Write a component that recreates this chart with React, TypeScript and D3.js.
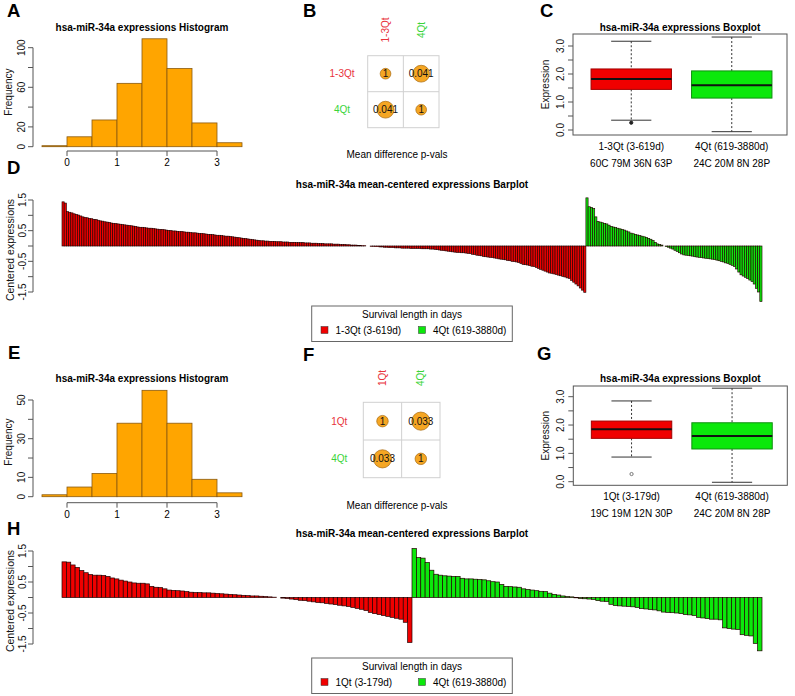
import React from "react";
import * as d3 from "d3";

const FONT = "'Liberation Sans', Arial, Helvetica, sans-serif";
const RED = "#f00000";
const GREEN = "#0be80b";
const RED_TXT = "#e8333c";
const GREEN_TXT = "#3ad43a";
const ORANGE = "#ffa500";
const AXIS = "#555";

// histogram data (bin edges -0.5 .. 3.5, width 0.5)
const histBreaks = [-0.5, 0, 0.5, 1, 1.5, 2, 2.5, 3, 3.5];
const histCountsA = [1, 10, 27, 64, 109, 79, 24, 4];
const histCountsE = [1, 5, 12, 38, 55, 38, 9, 2];
const histXTicks = [0, 1, 2, 3];
const histYTicksA = [0, 20, 40, 60, 80, 100];
const histYLabelsA = [0, 20, 60, 100];
const histYTicksE = [0, 10, 20, 30, 40, 50];
const histYLabelsE = [0, 10, 30, 50];

// p-value matrices
const pvalLabelsB = ["1-3Qt", "4Qt"];
const pvalsB = [[1, 0.041], [0.041, 1]];
const pvalLabelsF = ["1Qt", "4Qt"];
const pvalsF = [[1, 0.033], [0.033, 1]];

// boxplots
const boxGroupsC = ["1-3Qt (3-619d)", "4Qt (619-3880d)"];
const boxSubC = ["60C 79M 36N 63P", "24C 20M 8N 28P"];
const boxStatsC = [
  { lo: 0.35, q1: 1.45, med: 1.82, q3: 2.18, hi: 3.17, out: [0.26] },
  { lo: -0.06, q1: 1.14, med: 1.6, q3: 2.11, hi: 3.32, out: [] },
];
const boxGroupsG = ["1Qt (3-179d)", "4Qt (619-3880d)"];
const boxSubG = ["19C 19M 12N 30P", "24C 20M 8N 28P"];
const boxStatsG = [
  { lo: 0.87, q1: 1.53, med: 1.85, q3: 2.14, hi: 2.85, out: [0.27] },
  { lo: -0.02, q1: 1.155, med: 1.61, q3: 2.08, hi: 3.3, out: [] },
];
const boxYTicks = [0, 0.5, 1, 1.5, 2, 2.5, 3];
const boxYLabels = [0, 1, 2, 3];

// mean-centered barplots
const centeredD_short = [
  1.44, 1.40, 1.12, 1.10, 1.08, 1.05, 1.03, 1.01, 0.98, 0.95,
  0.93, 0.92, 0.90, 0.89, 0.87, 0.86, 0.84, 0.82, 0.81, 0.79,
  0.78, 0.77, 0.75, 0.74, 0.73, 0.72, 0.71, 0.70, 0.69, 0.68,
  0.67, 0.66, 0.65, 0.64, 0.62, 0.61, 0.61, 0.60, 0.59, 0.58,
  0.58, 0.57, 0.56, 0.55, 0.54, 0.54, 0.53, 0.52, 0.51, 0.50,
  0.49, 0.49, 0.48, 0.47, 0.47, 0.46, 0.45, 0.45, 0.44, 0.43,
  0.43, 0.42, 0.41, 0.41, 0.40, 0.39, 0.38, 0.38, 0.37, 0.36,
  0.35, 0.35, 0.34, 0.33, 0.32, 0.32, 0.31, 0.30, 0.29, 0.28,
  0.27, 0.26, 0.25, 0.24, 0.23, 0.22, 0.21, 0.20, 0.19, 0.18,
  0.17, 0.17, 0.16, 0.16, 0.15, 0.15, 0.15, 0.14, 0.14, 0.14,
  0.13, 0.13, 0.13, 0.12, 0.12, 0.12, 0.11, 0.11, 0.11, 0.11,
  0.10, 0.10, 0.10, 0.09, 0.09, 0.09, 0.08, 0.08, 0.08, 0.07,
  0.07, 0.07, 0.07, 0.06, 0.06, 0.06, 0.05, 0.05, 0.05, 0.04,
  0.04, 0.03, 0.03, 0.03, 0.02, 0.02, 0.01, 0.01, 0.00, 0.00,
  -0.01, -0.01, -0.02, -0.02, -0.03, -0.03, -0.04, -0.04, -0.05, -0.05,
  -0.05, -0.06, -0.06, -0.06, -0.07, -0.07, -0.07, -0.07, -0.08, -0.08,
  -0.08, -0.08, -0.08, -0.09, -0.09, -0.09, -0.09, -0.10, -0.10, -0.11,
  -0.12, -0.13, -0.14, -0.15, -0.16, -0.17, -0.18, -0.19, -0.20, -0.21,
  -0.21, -0.22, -0.22, -0.23, -0.24, -0.25, -0.27, -0.28, -0.30, -0.31,
  -0.32, -0.34, -0.35, -0.36, -0.37, -0.38, -0.39, -0.40, -0.42, -0.43,
  -0.44, -0.45, -0.47, -0.48, -0.50, -0.51, -0.52, -0.54, -0.57, -0.60,
  -0.61, -0.62, -0.64, -0.66, -0.67, -0.70, -0.73, -0.76, -0.79, -0.82,
  -0.85, -0.88, -0.89, -0.91, -0.93, -0.95, -0.97, -0.99, -1.01, -1.04,
  -1.06, -1.12, -1.18, -1.24, -1.30, -1.37, -1.44, -1.51,
];
const centeredD_long = [
  1.57, 1.28, 1.26, 1.22, 0.95, 0.80, 0.78, 0.76, 0.74, 0.72,
  0.68, 0.64, 0.62, 0.60, 0.58, 0.56, 0.54, 0.52, 0.49, 0.46,
  0.42, 0.40, 0.38, 0.36, 0.34, 0.32, 0.30, 0.28, 0.25, 0.22,
  0.18, 0.12, 0.07, 0.05, 0.03, 0.00, -0.02, -0.04, -0.07, -0.10,
  -0.14, -0.18, -0.22, -0.26, -0.29, -0.30, -0.31, -0.32, -0.33, -0.35,
  -0.36, -0.37, -0.38, -0.39, -0.40, -0.41, -0.42, -0.43, -0.44, -0.46,
  -0.48, -0.50, -0.52, -0.55, -0.57, -0.60, -0.63, -0.67, -0.75, -0.85,
  -0.94, -0.98, -1.02, -1.06, -1.11, -1.16, -1.24, -1.38, -1.50, -1.81,
];
const centeredH_short = [
  1.15, 1.14, 1.05, 0.97, 0.87, 0.80, 0.74, 0.72, 0.72, 0.71,
  0.68, 0.63, 0.60, 0.56, 0.53, 0.50, 0.47, 0.46, 0.46, 0.44,
  0.36, 0.33, 0.32, 0.28, 0.24, 0.23, 0.22, 0.21, 0.19, 0.17,
  0.16, 0.16, 0.15, 0.15, 0.14, 0.13, 0.12, 0.11, 0.10, 0.09,
  0.08, 0.07, 0.06, 0.05, 0.05, 0.04, 0.03, 0.02, 0.01, 0.00,
  -0.02, -0.03, -0.05, -0.07, -0.09, -0.10, -0.12, -0.14, -0.16, -0.17,
  -0.19, -0.21, -0.23, -0.25, -0.27, -0.29, -0.32, -0.35, -0.38, -0.42,
  -0.48, -0.52, -0.55, -0.58, -0.61, -0.64, -0.67, -0.70, -0.80, -1.45,
];
const centeredH_long = [
  1.58, 1.29, 1.27, 1.13, 0.88, 0.75, 0.72, 0.70, 0.69, 0.68,
  0.68, 0.62, 0.60, 0.60, 0.59, 0.58, 0.57, 0.54, 0.51, 0.50,
  0.42, 0.36, 0.35, 0.34, 0.33, 0.28, 0.26, 0.24, 0.22, 0.20,
  0.19, 0.14, 0.10, 0.08, 0.05, 0.03, 0.02, -0.01, -0.03, -0.04,
  -0.05, -0.06, -0.10, -0.12, -0.13, -0.22, -0.26, -0.27, -0.28, -0.29,
  -0.30, -0.32, -0.36, -0.37, -0.39, -0.40, -0.43, -0.47, -0.48, -0.49,
  -0.50, -0.52, -0.55, -0.56, -0.58, -0.64, -0.66, -0.68, -0.70, -0.70,
  -0.72, -0.98, -1.00, -1.02, -1.03, -1.20, -1.22, -1.24, -1.48, -1.72,
];
const barYTicks = [-1.5, -1, -0.5, 0, 0.5, 1, 1.5];
const barYLabels = [-1.5, -0.5, 0.5, 1.5];
const legendD = ["1-3Qt (3-619d)", "4Qt (619-3880d)"];
const legendH = ["1Qt (3-179d)", "4Qt (619-3880d)"];

const VText = ({ x, y, size = 10, children, fill = "#111" }: any) => (
  <text
    transform={`translate(${x},${y}) rotate(-90)`}
    textAnchor="middle"
    dy="0.35em"
    fontSize={size}
    fill={fill}
  >
    {children}
  </text>
);

const Letter = ({ x, y, t }: any) => (
  <text x={x} y={y} fontSize={18.5} fontWeight="bold" fill="#000">{t}</text>
);

const Histogram = ({ counts, yDomain, yRange, yTicks, yLabels, axisY, titleY, ylabY }: any) => {
  const x = d3.scaleLinear().domain([-0.5, 3.5]).range([42, 242]);
  const y = d3.scaleLinear().domain(yDomain).range(yRange);
  const bins = counts.map((c: number, i: number) => ({ x0: histBreaks[i], x1: histBreaks[i + 1], c }));
  const yMax = yTicks[yTicks.length - 1];
  return (
    <g>
      <text x={142} y={titleY} textAnchor="middle" fontSize={10} fontWeight="bold">
        hsa-miR-34a expressions Histogram
      </text>
      {bins.map((b: any, i: number) => (
        <rect key={i} x={x(b.x0)} y={y(b.c)} width={x(b.x1) - x(b.x0)} height={y(0) - y(b.c)}
          fill={ORANGE} stroke="#8a5a10" strokeWidth={0.8} />
      ))}
      <line x1={x(0)} x2={x(3)} y1={axisY} y2={axisY} stroke={AXIS} />
      {histXTicks.map((t) => (
        <g key={t}>
          <line x1={x(t)} x2={x(t)} y1={axisY} y2={axisY + 5} stroke={AXIS} />
          <text x={x(t)} y={axisY + 15} textAnchor="middle" fontSize={10}>{t}</text>
        </g>
      ))}
      <line x1={33} x2={33} y1={y(0)} y2={y(yMax)} stroke={AXIS} />
      {yTicks.map((t: number) => (
        <line key={t} x1={28} x2={33} y1={y(t)} y2={y(t)} stroke={AXIS} />
      ))}
      {yLabels.map((t: number) => (
        <VText key={t} x={21.5} y={y(t)}>{t}</VText>
      ))}
      <VText x={8} y={ylabY}>Frequency</VText>
    </g>
  );
};

const PvalMatrix = ({ labels, pvals, gx, gy, colLabelY, rowLabelX, captionY }: any) => {
  const xb = d3.scaleBand().domain(labels).range(gx);
  const yb = d3.scaleBand().domain(labels).range(gy);
  const bw = xb.bandwidth();
  const r = d3.scaleLinear().domain([0, 1]).range([0.24 * bw, 0.15 * bw]);
  const colors = [RED_TXT, GREEN_TXT];
  return (
    <g>
      <rect x={gx[0]} y={gy[0]} width={gx[1] - gx[0]} height={gy[1] - gy[0]} fill="none" stroke="#d0d0d0" />
      <line x1={gx[0] + bw} x2={gx[0] + bw} y1={gy[0]} y2={gy[1]} stroke="#d0d0d0" />
      <line x1={gx[0]} x2={gx[1]} y1={gy[0] + yb.bandwidth()} y2={gy[0] + yb.bandwidth()} stroke="#d0d0d0" />
      {labels.map((l: string, i: number) => (
        <g key={l}>
          <VText x={(xb(l) as number) + bw / 2} y={colLabelY} fill={colors[i]}>{l}</VText>
          <text x={rowLabelX} y={(yb(l) as number) + yb.bandwidth() / 2} dy="0.35em" textAnchor="middle"
            fontSize={10} fill={colors[i]}>{l}</text>
        </g>
      ))}
      {pvals.map((row: number[], i: number) =>
        row.map((p: number, j: number) => {
          const cx = (xb(labels[j]) as number) + bw / 2;
          const cy = (yb(labels[i]) as number) + yb.bandwidth() / 2;
          return (
            <g key={i + "-" + j}>
              <circle cx={cx} cy={cy} r={r(p)} fill="#f5a623" stroke="#a86a10" strokeWidth={0.7} />
              <text x={cx} y={cy} dy="0.35em" textAnchor="middle" fontSize={10} fill="#111">
                {p === 1 ? "1" : String(p)}
              </text>
            </g>
          );
        })
      )}
      <text x={397} y={captionY} textAnchor="middle" fontSize={10}>Mean difference p-vals</text>
    </g>
  );
};

const Boxplot = ({ stats, groups, subs, frame, yRange, titleY, outFill }: any) => {
  const [l, r, t, b] = frame;
  const y = d3.scaleLinear().domain([0, 3]).range(yRange);
  const xb = d3.scaleBand().domain(groups).range([l + 8, r - 5]).paddingInner(0.2).paddingOuter(0.1);
  const fills = [RED, GREEN];
  const strokes = ["#a00000", "#109010"];
  const hw = xb.bandwidth() / 2;
  return (
    <g>
      <text x={(l + r) / 2} y={titleY} textAnchor="middle" fontSize={10} fontWeight="bold">
        hsa-miR-34a expressions Boxplot
      </text>
      {stats.map((s: any, i: number) => {
        const cx = (xb(groups[i]) as number) + hw;
        return (
          <g key={i}>
            <line x1={cx} x2={cx} y1={y(s.hi)} y2={y(s.q3)} stroke="#333" strokeDasharray="2,2" />
            <line x1={cx} x2={cx} y1={y(s.q1)} y2={y(s.lo)} stroke="#333" strokeDasharray="2,2" />
            <line x1={cx - hw / 2} x2={cx + hw / 2} y1={y(s.hi)} y2={y(s.hi)} stroke="#333" />
            <line x1={cx - hw / 2} x2={cx + hw / 2} y1={y(s.lo)} y2={y(s.lo)} stroke="#333" />
            <rect x={cx - hw} y={y(s.q3)} width={2 * hw} height={y(s.q1) - y(s.q3)}
              fill={fills[i]} stroke={strokes[i]} />
            <line x1={cx - hw} x2={cx + hw} y1={y(s.med)} y2={y(s.med)} stroke="#111" strokeWidth={2} />
            {s.out.map((o: number, k: number) => (
              <circle key={k} cx={cx} cy={y(o)} r={1.6} fill={outFill} stroke={outFill === "none" ? "#777" : "#222"} />
            ))}
            <text x={cx} y={b + 15} textAnchor="middle" fontSize={10}>{groups[i]}</text>
            <text x={cx} y={b + 32} textAnchor="middle" fontSize={10}>{subs[i]}</text>
          </g>
        );
      })}
      <rect x={l} y={t} width={r - l} height={b - t} fill="none" stroke={AXIS} />
      {boxYTicks.map((v) => (
        <line key={v} x1={l - 5} x2={l} y1={y(v)} y2={y(v)} stroke={AXIS} />
      ))}
      {boxYLabels.map((v) => (
        <VText key={v} x={l - 13} y={y(v)}>{d3.format(".1f")(v)}</VText>
      ))}
      <VText x={l - 28} y={(t + b) / 2}>Expression</VText>
    </g>
  );
};

const Barplot = ({ shortVals, longVals, yRange, titleY, ylabY, legendTop, legendLabels }: any) => {
  const vals = shortVals.concat(longVals);
  const x = d3.scaleBand<number>().domain(d3.range(vals.length)).range([62, 762]).padding(0);
  const y = d3.scaleLinear().domain([-1.5, 1.5]).range(yRange);
  const w = x.bandwidth();
  const sw = w < 3 ? 0.65 : 0.7;
  const lt = legendTop;
  return (
    <g>
      <text x={412} y={titleY} textAnchor="middle" fontSize={10} fontWeight="bold">
        hsa-miR-34a mean-centered expressions Barplot
      </text>
      {vals.map((v: number, i: number) => (
        <rect key={i} x={x(i)} width={w} y={Math.min(y(v), y(0))} height={Math.abs(y(v) - y(0))}
          fill={i < shortVals.length ? RED : GREEN} stroke="#200" strokeWidth={sw} />
      ))}
      <line x1={33} x2={33} y1={y(-1.5)} y2={y(1.5)} stroke={AXIS} />
      {barYTicks.map((t) => (
        <line key={t} x1={28} x2={33} y1={y(t)} y2={y(t)} stroke={AXIS} />
      ))}
      {barYLabels.map((t) => (
        <VText key={t} x={22.5} y={y(t)}>{t}</VText>
      ))}
      <VText x={10} y={ylabY} size={10.5}>Centered expressions</VText>
      <rect x={311.7} y={lt} width={200.6} height={35.5} fill="#fff" stroke="#666" />
      <text x={412} y={lt + 8.5} dy="0.35em" textAnchor="middle" fontSize={10}>Survival length in days</text>
      {legendLabels.map((lab: string, i: number) => {
        const sx = i === 0 ? 321 : 418.5;
        return (
          <g key={lab}>
            <rect x={sx} y={lt + 20.5} width={7} height={7} fill={i === 0 ? RED : GREEN} stroke="#333" strokeWidth={0.5} />
            <text x={sx + 14.5} y={lt + 24} dy="0.35em" fontSize={10}>{lab}</text>
          </g>
        );
      })}
    </g>
  );
};

export default function App() {
  return (
    <svg width={795} height={696} style={{ position: "absolute", left: 0, top: 0, display: "block" }}
      fontFamily={FONT}>
      <rect width={795} height={696} fill="#fff" />
      <Letter x={7} y={16.7} t="A" />
      <Letter x={303} y={16.7} t="B" />
      <Letter x={540} y={16.7} t="C" />
      <Letter x={7} y={174} t="D" />
      <Letter x={8} y={358.5} t="E" />
      <Letter x={303} y={360.5} t="F" />
      <Letter x={537} y={360} t="G" />
      <Letter x={7} y={535} t="H" />

      <Histogram counts={histCountsA} yDomain={[0, 100]} yRange={[146.7, 47.7]}
        yTicks={histYTicksA} yLabels={histYLabelsA} axisY={151} titleY={30.5} ylabY={92} />
      <Histogram counts={histCountsE} yDomain={[0, 50]} yRange={[496.7, 400]}
        yTicks={histYTicksE} yLabels={histYLabelsE} axisY={502.7} titleY={381.5} ylabY={442} />

      <PvalMatrix labels={pvalLabelsB} pvals={pvalsB} gx={[367.7, 439]} gy={[55.7, 127.7]}
        colLabelY={30} rowLabelX={342} captionY={157.5} />
      <PvalMatrix labels={pvalLabelsF} pvals={pvalsF} gx={[363.3, 440]} gy={[402.3, 477.7]}
        colLabelY={378} rowLabelX={339.3} captionY={508.5} />

      <Boxplot stats={boxStatsC} groups={boxGroupsC} subs={boxSubC} frame={[573, 787, 34, 135]}
        yRange={[130, 46]} titleY={30.5} outFill="#222" />
      <Boxplot stats={boxStatsG} groups={boxGroupsG} subs={boxSubG} frame={[573.3, 787.3, 386, 485.3]}
        yRange={[481.7, 396.7]} titleY={381.5} outFill="none" />

      <Barplot shortVals={centeredD_short} longVals={centeredD_long} yRange={[292, 200]}
        titleY={188} ylabY={250} legendTop={306} legendLabels={legendD} />
      <Barplot shortVals={centeredH_short} longVals={centeredH_long} yRange={[644, 551]}
        titleY={537} ylabY={601} legendTop={658} legendLabels={legendH} />
    </svg>
  );
}
